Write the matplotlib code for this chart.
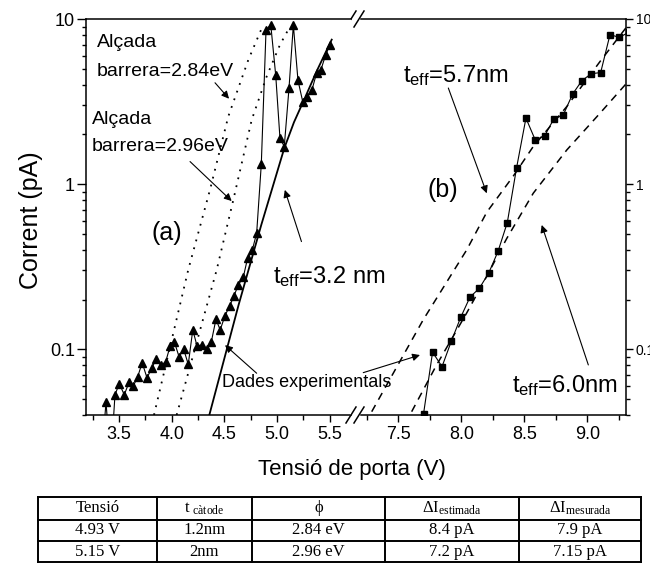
import matplotlib
matplotlib.use('Agg')
import matplotlib.pyplot as plt
from matplotlib.ticker import MultipleLocator, LogLocator, FuncFormatter, NullFormatter
from matplotlib.lines import Line2D

plt.rcParams['font.family'] = ['Liberation Sans', 'DejaVu Sans']
plt.rcParams['mathtext.default'] = 'regular'

# (a) measured current, gate 1
volt_a = [3.33, 3.377, 3.42, 3.462, 3.503, 3.55, 3.595, 3.636, 3.677, 3.72,
          3.766, 3.81, 3.854, 3.898, 3.943, 3.984, 4.025, 4.07, 4.114, 4.157,
          4.2, 4.24, 4.287, 4.332, 4.376, 4.42, 4.46, 4.506, 4.55, 4.59,
          4.632, 4.68, 4.72, 4.765, 4.806, 4.85, 4.895, 4.94, 4.987, 5.027,
          5.068, 5.113, 5.154, 5.198, 5.243, 5.287, 5.331, 5.376, 5.416, 5.461,
          5.502]
curr_a = [0.02, 0.048, 0.02, 0.053, 0.062, 0.053, 0.063, 0.060, 0.068, 0.083,
          0.067, 0.077, 0.087, 0.080, 0.084, 0.104, 0.111, 0.090, 0.100, 0.081,
          0.131, 0.105, 0.106, 0.101, 0.111, 0.152, 0.131, 0.160, 0.183, 0.21,
          0.245, 0.275, 0.356, 0.40, 0.505, 1.32, 8.6, 9.2, 4.55, 1.9,
          1.69, 3.82, 9.2, 4.25, 3.16, 3.39, 3.73, 4.74, 4.93, 6.08,
          6.99]

# (a) model curves
fit32_v = [4.357, 4.634, 4.85, 5.068, 5.16, 5.249, 5.38, 5.518]
fit32_i = [0.04, 0.185, 0.567, 1.65, 2.37, 3.17, 4.9, 7.5]
phi284_v = [3.832, 4.157, 4.363, 4.537, 4.727, 4.869]
phi284_i = [0.04, 0.303, 0.923, 2.57, 5.66, 9.25]
phi296_v = [4.047, 4.427, 4.584, 4.759, 4.901, 5.027, 5.122]
phi296_i = [0.04, 0.303, 0.80, 2.45, 4.49, 6.98, 9.0]

# (b) measured current, gate 2
volt_b = [7.70, 7.772, 7.847, 7.921, 7.995, 8.069, 8.143, 8.217, 8.291, 8.365,
          8.439, 8.513, 8.587, 8.661, 8.735, 8.808, 8.883, 8.957, 9.03, 9.106,
          9.18, 9.254, 9.328]
curr_b = [0.0405, 0.096, 0.0785, 0.112, 0.156, 0.207, 0.234, 0.289, 0.391, 0.585,
          1.26, 2.51, 1.85, 1.96, 2.49, 2.61, 3.51, 4.23, 4.66, 4.74,
          8.04, 7.74, 8.3]

# (b) model curves
fit57_v = [7.289, 7.698, 8.043, 8.202, 8.413, 8.571, 8.837, 9.101, 9.31]
fit57_i = [0.0419, 0.151, 0.40, 0.676, 1.12, 1.69, 2.95, 5.53, 8.91]
fit60_v = [7.606, 7.80, 8.043, 8.20, 8.36, 8.571, 8.837, 9.101, 9.31]
fit60_i = [0.0419, 0.0794, 0.166, 0.275, 0.468, 0.881, 1.61, 2.69, 4.07]

# table
col_heads = ['Tensió', r'$\mathregular{t_{\ càtode}}$', 'ϕ',
             r'$\mathregular{ΔI_{estimada}}$', r'$\mathregular{ΔI_{mesurada}}$']
row1 = ['4.93 V', '1.2nm', '2.84 eV', '8.4 pA', '7.9 pA']
row2 = ['5.15 V', '2nm', '2.96 eV', '7.2 pA', '7.15 pA']

W, H = 650, 582
fig = plt.figure(figsize=(W / 100, H / 100), dpi=100)


def box(l, r, t, b):
    return [l / W, 1 - b / H, (r - l) / W, (b - t) / H]


def fx(px):
    return px / W


def fy(py):
    return 1 - py / H


ax1 = fig.add_axes(box(86, 351, 19, 415))
ax2 = fig.add_axes(box(361, 626, 19, 415))
ax1.set_zorder(3)

for ax in (ax1, ax2):
    ax.set_yscale('log')
    ax.set_ylim(0.04, 10)
    ax.xaxis.set_major_locator(MultipleLocator(0.5))
    ax.xaxis.set_minor_locator(MultipleLocator(0.25))
    ax.xaxis.set_major_formatter(FuncFormatter(lambda v, _: f'{v:.1f}'))
    ax.yaxis.set_major_locator(LogLocator(base=10))
    ax.yaxis.set_minor_locator(LogLocator(base=10, subs=range(2, 10)))
    ax.yaxis.set_major_formatter(FuncFormatter(lambda v, _: f'{v:g}'))
    ax.yaxis.set_minor_formatter(NullFormatter())
    for s in ax.spines.values():
        s.set_linewidth(1.1)
    ax.tick_params(axis='x', which='major', direction='out', length=5, width=1.0,
                   labelsize=13, pad=3)
    ax.tick_params(axis='x', which='minor', direction='out', length=3.5, width=1.0)

ax1.set_xlim(3.187, 5.701)
ax2.set_xlim(7.204, 9.307)
ax1.spines['right'].set_visible(False)
ax2.spines['left'].set_visible(False)

ax1.tick_params(axis='y', which='major', left=True, right=False, direction='out',
                length=6.5, width=1.0, labelsize=13, pad=1.5)
ax1.tick_params(axis='y', which='minor', left=True, right=False, direction='out',
                length=3, width=1.0)
ax2.tick_params(axis='y', which='both', left=False, labelleft=False, right=True,
                labelright=True, direction='out', width=1.0)
ax2.tick_params(axis='y', which='major', length=5, labelsize=10, pad=2)
ax2.tick_params(axis='y', which='minor', length=3)

# (a)
ax1.plot(volt_a, curr_a, color='k', lw=0.8, marker='^', ms=6)
ax1.plot(fit32_v, fit32_i, color='k', lw=1.3)
ax1.plot(phi284_v, phi284_i, color='k', lw=1.3, ls=(0, (1, 3.5)))
ax1.plot(phi296_v, phi296_i, color='k', lw=1.3, ls=(0, (1, 3.5)))

# (b)
ax2.plot(volt_b, curr_b, color='k', lw=0.8, marker='s', ms=4.5)
ax2.plot(fit57_v, fit57_i, color='k', lw=1.1, ls=(0, (5, 4)))
ax2.plot(fit60_v, fit60_i, color='k', lw=1.1, ls=(0, (5, 4)))

arrow = dict(arrowstyle='-|>', color='k', lw=0.8, mutation_scale=11,
             shrinkA=0, shrinkB=0)

ax1.text(3.291, 7.18, 'Alçada', fontsize=14, va='center')
ax1.text(3.291, 4.8, 'barrera=2.84eV', fontsize=14, va='center')
ax1.annotate('', xy=(4.544, 3.29), xytext=(4.411, 4.11), arrowprops=arrow)
ax1.text(3.244, 2.45, 'Alçada', fontsize=14, va='center')
ax1.text(3.244, 1.69, 'barrera=2.96eV', fontsize=14, va='center')
ax1.annotate('', xy=(4.569, 0.79), xytext=(4.174, 1.37), arrowprops=arrow)
ax1.text(3.955, 0.507, '(a)', fontsize=18, ha='center', va='center')
ax1.text(4.961, 0.253, r'$t_{eff}$=3.2 nm', fontsize=17, va='baseline')
ax1.annotate('', xy=(5.073, 0.923), xytext=(5.231, 0.449), arrowprops=arrow)
ax1.text(4.477, 0.0625, 'Dades experimentals', fontsize=13, va='center')
ax1.annotate('', xy=(4.506, 0.106), xytext=(4.806, 0.0716), arrowprops=arrow)

ax2.annotate('', xy=(7.672, 0.0923), xytext=(7.222, 0.0722), arrowprops=arrow)
ax2.text(7.851, 0.92, '(b)', fontsize=18, ha='center', va='center')
ax2.text(7.537, 4.17, r'$t_{eff}$=5.7nm', fontsize=17, va='baseline')
ax2.annotate('', xy=(8.202, 0.88), xytext=(7.897, 3.82), arrowprops=arrow)
ax2.text(8.40, 0.0553, r'$t_{eff}$=6.0nm', fontsize=17, va='baseline')
ax2.annotate('', xy=(8.638, 0.566), xytext=(9.008, 0.0804), arrowprops=arrow)

# axis break marks
for y in (19, 415):
    for x0 in (346, 354):
        fig.add_artist(Line2D([fx(x0), fx(x0 + 10)], [fy(y + 8), fy(y - 8)],
                              color='k', lw=1.1))

fig.text(fx(31), fy(220), 'Corrent (pA)', rotation=90, ha='center', va='center',
         fontsize=18)
fig.text(fx(352), fy(470), 'Tensió de porta (V)', ha='center', va='center',
         fontsize=16)

# table under the plot
col_x = [38, 157, 252, 385, 519, 641]
row_y = [497, 520, 541, 562]
for x in col_x:
    fig.add_artist(Line2D([fx(x), fx(x)], [fy(row_y[0]), fy(row_y[-1])], color='k', lw=1.4))
for y in row_y:
    fig.add_artist(Line2D([fx(col_x[0]), fx(col_x[-1])], [fy(y), fy(y)], color='k', lw=1.4))
serif = ['Liberation Serif', 'DejaVu Serif']
for r, cells in enumerate([col_heads, row1, row2]):
    yc = (row_y[r] + row_y[r + 1]) / 2
    for c, txt in enumerate(cells):
        xc = (col_x[c] + col_x[c + 1]) / 2
        fig.text(fx(xc), fy(yc), txt, ha='center', va='center', fontsize=12,
                 family=serif)

fig.savefig('out.png', dpi=100)
